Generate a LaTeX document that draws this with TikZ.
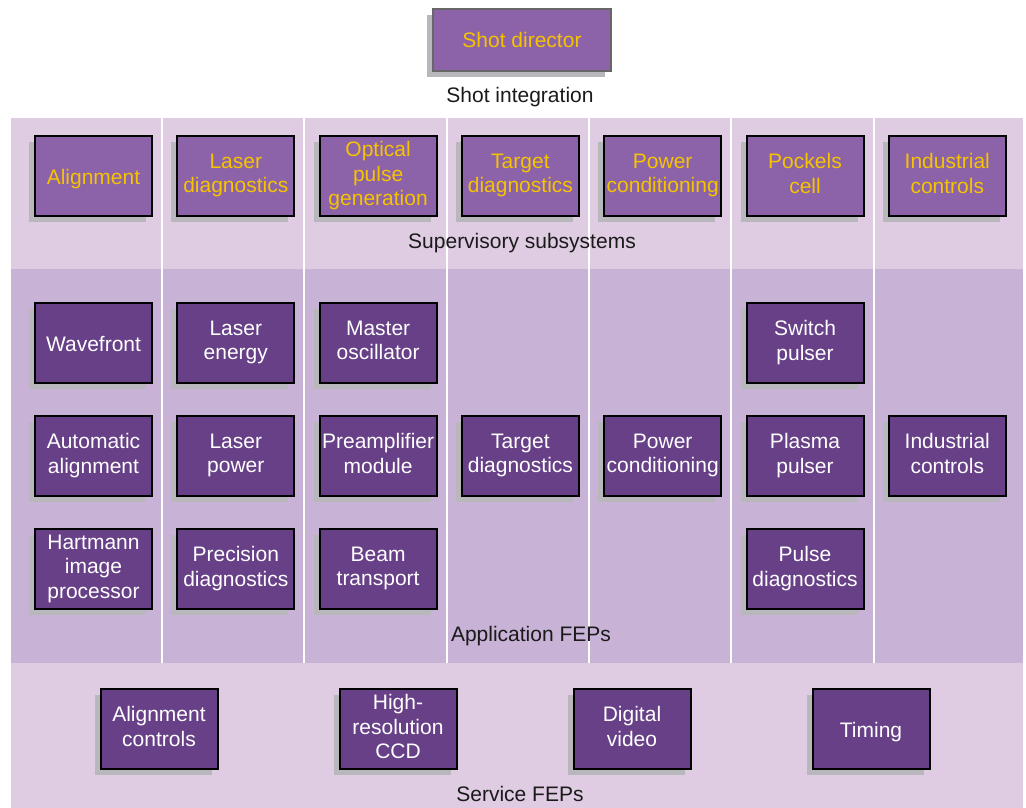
\documentclass[tikz,border=0pt]{standalone}
\usepackage{fontspec}
\setmainfont{Liberation Sans}
\usetikzlibrary{shadows}
\definecolor{bandA}{HTML}{DFCCE2}
\definecolor{bandB}{HTML}{C8B2D6}
\definecolor{supfill}{HTML}{8C62A8}
\definecolor{appfill}{HTML}{674087}
\definecolor{goldtext}{HTML}{F5C400}
\definecolor{shadowgray}{HTML}{B8B8BC}
\definecolor{labeltext}{HTML}{1A1A1A}
\newcommand{\boxstrut}{\rule[-5pt]{0pt}{26pt}}
\tikzset{
  boxbase/.style={rectangle, minimum width=117pt, minimum height=80pt, inner sep=0pt,
    align=center, line width=2pt,
    font=\fontsize{21}{24.5}\selectfont,
    execute at begin node=\boxstrut, execute at end node=\boxstrut,
    general shadow={shadow xshift=-6pt, shadow yshift=-6pt, fill=shadowgray, opacity=1}},
  supbox/.style={boxbase, draw=black, fill=supfill, text=goldtext},
  appbox/.style={boxbase, draw=black, fill=appfill, text=white},
  topbox/.style={boxbase, draw=black!60, fill=supfill, text=goldtext, minimum width=178pt, minimum height=62pt},
  bandlabel/.style={font=\fontsize{21}{25}\selectfont, text=labeltext, inner sep=0pt},
  divider/.style={draw=white, line width=1.2pt}
}
\begin{document}
\begin{tikzpicture}[x=1pt,y=-1pt]
\useasboundingbox (0,0) rectangle (1026,808);
% bands
\fill[bandA] (11,118) rectangle (1023,269);
\fill[bandB] (11,269) rectangle (1023,663);
\fill[bandA] (11,663) rectangle (1023,808);
% dividers
\foreach \x in {162,304,447,589,731,874}
  \draw[divider] (\x,118) -- (\x,663);
% top
\node[topbox] (shot) at (522,40) {Shot director};
\node[bandlabel] (shotint) at (520,97) {Shot integration};
% supervisory
\node[supbox] (s1) at (93.5,176) {Alignment};
\node[supbox] (s2) at (235.8,176) {Laser\\diagnostics};
\node[supbox] (s3) at (378.1,176) {Optical\\pulse\\generation};
\node[supbox] (s4) at (520.4,176) {Target\\diagnostics};
\node[supbox] (s5) at (662.7,176) {Power\\conditioning};
\node[supbox] (s6) at (805.0,176) {Pockels\\cell};
\node[supbox] (s7) at (947.3,176) {Industrial\\controls};
\node[bandlabel] (suplabel) at (522,243) {Supervisory subsystems};
% application
\node[appbox] (a11) at (93.5,343) {Wavefront};
\node[appbox] (a12) at (93.5,456) {Automatic\\alignment};
\node[appbox] (a13) at (93.5,569) {Hartmann\\image\\processor};
\node[appbox] (a21) at (235.8,343) {Laser\\energy};
\node[appbox] (a22) at (235.8,456) {Laser\\power};
\node[appbox] (a23) at (235.8,569) {Precision\\diagnostics};
\node[appbox] (a31) at (378.1,343) {Master\\oscillator};
\node[appbox] (a32) at (378.1,456) {Preamplifier\\module};
\node[appbox] (a33) at (378.1,569) {Beam\\transport};
\node[appbox] (a42) at (520.4,456) {Target\\diagnostics};
\node[appbox] (a52) at (662.7,456) {Power\\conditioning};
\node[appbox] (a61) at (805.0,343) {Switch\\pulser};
\node[appbox] (a62) at (805.0,456) {Plasma\\pulser};
\node[appbox] (a63) at (805.0,569) {Pulse\\diagnostics};
\node[appbox] (a72) at (947.3,456) {Industrial\\controls};
\node[bandlabel] (applabel) at (531,636) {Application FEPs};
% service
\node[appbox] (v1) at (159,729) {Alignment\\controls};
\node[appbox] (v2) at (398,729) {High-\\resolution\\CCD};
\node[appbox] (v3) at (632,729) {Digital\\video};
\node[appbox] (v4) at (871,729) {Timing};
\node[bandlabel] (servlabel) at (520,794) {Service FEPs};
\end{tikzpicture}
\end{document}
